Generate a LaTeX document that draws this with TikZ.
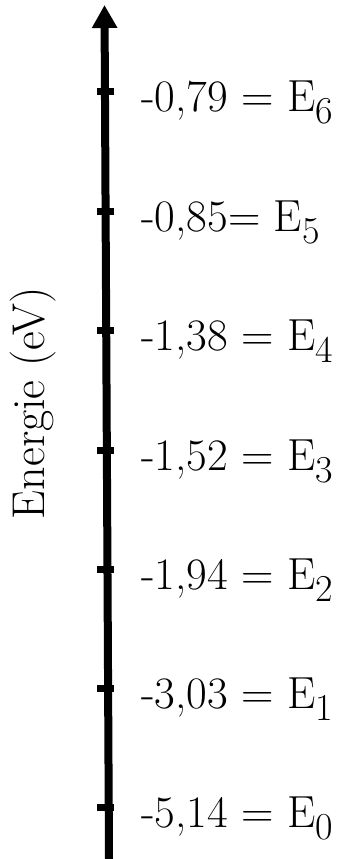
\documentclass[tikz,border=0pt]{standalone}
\usetikzlibrary{arrows.meta}
\newcommand{\lsub}[1]{\raisebox{-12pt}{\fontsize{38}{40}\selectfont #1}}
\begin{document}
\begin{tikzpicture}[x=1pt,y=-1pt,
  lvl/.style={anchor=base west,inner sep=0pt,font=\fontsize{45}{50}\selectfont},
  ticksty/.style={line width=7pt},
  axis/.style={line width=8pt,-{Triangle[width=24pt,length=23pt]}}]
\useasboundingbox (0,0) rectangle (344,859);
\coordinate (bot) at (109,859);
\coordinate (top) at (104.5,5);
\draw[axis] (bot) -- (top);
\foreach \y/\t [count=\i] in {91/{-0,79 = E\lsub{6}},211/{-0,85= E\lsub{5}},330/{-1,38 = E\lsub{4}},450/{-1,52 = E\lsub{3}},569/{-1,94 = E\lsub{2}},688/{-3,03 = E\lsub{1}},807/{-5,14 = E\lsub{0}}}{
  \coordinate (tl\i) at (97,\y);
  \coordinate (tr\i) at (114,\y);
  \draw[ticksty] (tl\i) -- (tr\i);
  \node[lvl] (lab\i) at (141,\y+20.5) {\t};
}
\node[rotate=90,anchor=base,inner sep=0pt,font=\fontsize{46}{50}\selectfont] (ylab) at (44,403) {Energie (eV)};
\end{tikzpicture}
\end{document}
